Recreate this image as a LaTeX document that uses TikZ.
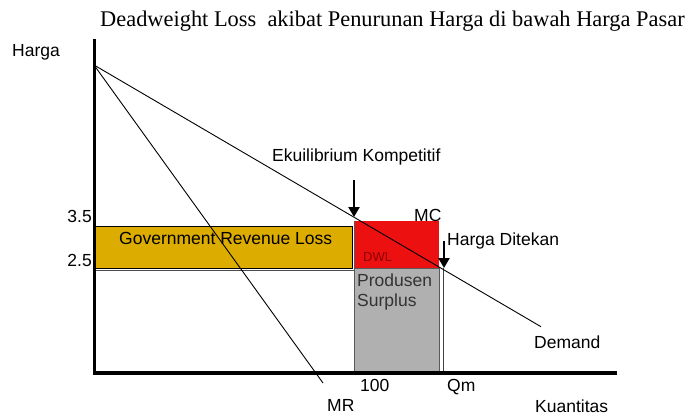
\documentclass[tikz,border=0pt]{standalone}
\usepackage{fontspec}
\setmainfont{Liberation Serif}
\setsansfont{Liberation Sans}
\usetikzlibrary{calc}
\usetikzlibrary{arrows.meta}
\definecolor{govgold}{RGB}{220,172,0}
\definecolor{dwlred}{RGB}{236,16,16}
\definecolor{surplusgray}{RGB}{176,176,176}
\definecolor{dwltext}{RGB}{140,0,0}
\newcommand{\createbox}[5]{\filldraw[#5] ( #1 , #2 ) rectangle ( #3 , #4 );}

\begin{document}
\begin{tikzpicture}[x=1pt,y=-1pt,
        lbl/.style={font=\sffamily\fontsize{17.5}{20}\selectfont, inner sep=0pt, anchor=base west},
        push/.style={line width=2.6pt, -{Triangle[length=10pt,width=11pt]}},
        curve/.style={line width=0.9pt}]
        \useasboundingbox (0,0) rectangle (689,416);
        %areas
        \createbox{93.5}{226.5}{352.7}{268}{fill=govgold, draw=black, line width=0.8pt}
        \draw[line width=0.8pt, black!70] (94,270.5) -- (354,270.5);
        \createbox{354}{221}{438.5}{268}{fill=dwlred, draw=none}
        \createbox{354}{268}{439}{372}{fill=surplusgray, draw=black!65, line width=1pt}
        \draw[line width=1pt, black!65] (354,221) -- (354,268);
        \draw[line width=0.8pt, black!75] (443,268) -- (443,372);
        %axes
        \draw[line width=2.6pt] (94.5,39) -- (94.5,374);
        \draw[line width=4pt] (93,373) -- (617,373);
        %curves
        \coordinate (top) at (94,65);
        \coordinate (dem) at (541,326.7);
        \coordinate (mr) at (323,383);
        \draw[curve] (top) -- (dem);
        \draw[curve] (top) -- (mr);
        %arrows
        \coordinate (eqtail) at (354,180);
        \coordinate (eqtip) at (354,217);
        \coordinate (dttail) at (444,241);
        \coordinate (dttip) at (444,268);
        \draw[push] (eqtail) -- (eqtip);
        \draw[push] (dttail) -- (dttip);
        %labels
        \node[font=\fontsize{22.4}{25}\selectfont, inner sep=0pt, anchor=base west] (title) at (100,26) {Deadweight Loss\ \ akibat Penurunan Harga di bawah Harga Pasar};
        \node[lbl] (harga) at (12,56) {Harga};
        \node[lbl, anchor=base east] (p35) at (92,222) {3.5};
        \node[lbl, anchor=base east] (p25) at (92,266) {2.5};
        \node[lbl] (ekui) at (272,161) {Ekuilibrium Kompetitif};
        \node[lbl] (mc) at (414,221.5) {MC};
        \node[lbl] (ditekan) at (447,245) {Harga Ditekan};
        \node[lbl] (gov) at (119,244) {Government Revenue Loss};
        \node[lbl, font=\sffamily\fontsize{13}{15}\selectfont, text=dwltext] (dwl) at (363,261) {DWL};
        \node[lbl, text=black!80] (prod) at (357,286.5) {Produsen};
        \node[lbl, text=black!80] (surp) at (357,306.5) {Surplus};
        \node[lbl] (demand) at (534,348) {Demand};
        \node[lbl] (q100) at (360,391.5) {100};
        \node[lbl] (qm) at (447,391.5) {Qm};
        \node[lbl] (mrlbl) at (327,411.5) {MR};
        \node[lbl] (kuan) at (535,412.5) {Kuantitas};
\end{tikzpicture}
\end{document}
